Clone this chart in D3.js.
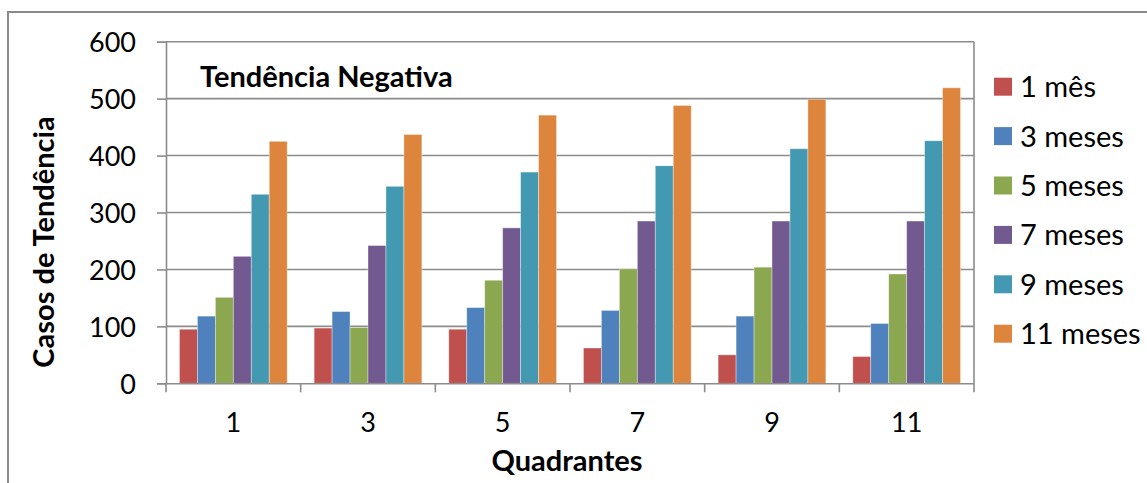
<!DOCTYPE html>
<html><head><meta charset="utf-8">
<script src="https://cdn.jsdelivr.net/npm/d3@7"></script>
<style>body{margin:0;background:#fff}svg{display:block}text{font-family:Lato,"Open Sans",sans-serif;fill:#000}</style>
</head><body><svg id="c" width="1147" height="483"></svg>
<script>
const categories = ["1","3","5","7","9","11"];
const seriesNames = ["1 mês","3 meses","5 meses","7 meses","9 meses","11 meses"];
const colors = ["#C0504D","#4F81BD","#8BA74F","#72598F","#4399B1","#DD843D"];
const s1 = [95, 97, 95, 62, 50, 47];
const s3 = [118, 126, 133, 128, 118, 105];
const s5 = [151, 98, 181, 201, 204, 192];
const s7 = [223, 242, 273, 285, 285, 285];
const s9 = [332, 346, 371, 382, 412, 426];
const s11 = [425, 437, 471, 488, 499, 519];
const yTicks = [0,100,200,300,400,500,600];
const series = [s1,s3,s5,s7,s9,s11];

const svg = d3.select("#c");
const L=166, R=974, T=41.7, B=383.3;
svg.append("rect").attr("x",8).attr("y",12).attr("width",1300).attr("height",600)
  .attr("fill","none").attr("stroke","#8a8a8a").attr("stroke-width",2);

const x = d3.scaleBand().domain(categories).range([L,R]).paddingInner(0).paddingOuter(0);
const x1 = d3.scaleBand().domain(d3.range(6)).range([0,x.bandwidth()]).paddingInner(0).paddingOuter(0.75);
const y = d3.scaleLinear().domain([0,600]).range([B,T]);

// gridlines
svg.append("g").selectAll("line").data(yTicks.slice(1)).join("line")
  .attr("x1",L).attr("x2",R).attr("y1",d=>y(d)).attr("y2",d=>y(d))
  .attr("stroke","#8c8c8c").attr("stroke-width",1.6);
svg.append("line").attr("x1",R).attr("x2",R).attr("y1",T).attr("y2",B).attr("stroke","#8c8c8c").attr("stroke-width",1.6);

// bars
const data = [];
categories.forEach((c,i)=>series.forEach((s,j)=>data.push({c,j,v:s[i]})));
svg.append("g").selectAll("rect").data(data).join("rect")
  .attr("x",d=>x(d.c)+x1(d.j)).attr("width",x1.bandwidth())
  .attr("y",d=>y(d.v)).attr("height",d=>B-y(d.v))
  .attr("fill",d=>colors[d.j]).attr("stroke","rgba(255,255,255,0.45)").attr("stroke-width",0.8);

// y axis
const ya = svg.append("g").attr("transform",`translate(${L},0)`)
  .call(d3.axisLeft(y).tickValues(yTicks).tickSize(9).tickPadding(21).tickFormat(d3.format("d")));
ya.select(".domain").attr("stroke","#8c8c8c").attr("stroke-width",1.6);
ya.selectAll(".tick line").attr("stroke","#8c8c8c").attr("stroke-width",1.6);
ya.selectAll("text").attr("font-size",27).attr("font-family","Lato").attr("dy","0.36em");

// x axis
const xa = svg.append("g").attr("transform",`translate(0,${B})`)
  .call(d3.axisBottom(x).tickSize(0).tickPadding(30));
xa.select(".domain").attr("stroke","#8c8c8c").attr("stroke-width",1.6);
xa.selectAll("text").attr("font-size",27).attr("font-family","Lato");
const edges = categories.map(c=>x(c)).concat([R]);
svg.append("g").selectAll("line").data(edges).join("line")
  .attr("x1",d=>d).attr("x2",d=>d).attr("y1",B).attr("y2",B+9)
  .attr("stroke","#8c8c8c").attr("stroke-width",1.6);

// titles
svg.append("text").attr("x",200).attr("y",87).attr("font-size",29).attr("font-weight","bold").text("Tendência Negativa");
svg.append("text").attr("transform","translate(54,242) rotate(-90)").attr("text-anchor","middle")
  .attr("font-size",29).attr("font-weight","bold").text("Casos de Tendência");
svg.append("text").attr("x",567).attr("y",471).attr("text-anchor","middle")
  .attr("font-size",29).attr("font-weight","bold").text("Quadrantes");

// legend
const lg = svg.append("g").selectAll("g").data(seriesNames).join("g")
  .attr("transform",(d,i)=>`translate(994,${86.7+i*49.4})`);
lg.append("rect").attr("x",0).attr("y",-9).attr("width",18).attr("height",18).attr("fill",(d,i)=>colors[i]);
lg.append("text").attr("x",26).attr("dy","0.36em").attr("font-size",29).text(d=>d);
</script></body></html>
